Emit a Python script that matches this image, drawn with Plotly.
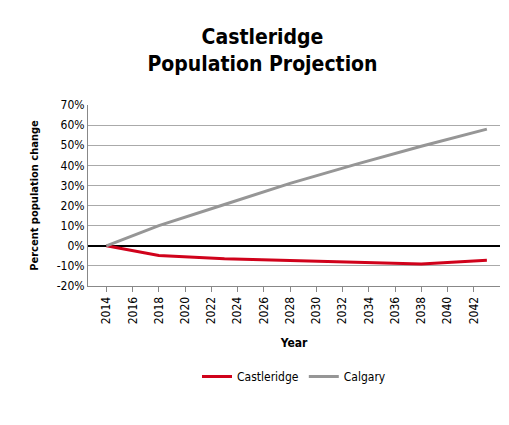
import plotly.graph_objects as go

years = [2014, 2018, 2023, 2028, 2033, 2038, 2043]
castleridge = [0, -4.8, -6.5, -7.4, -8.2, -9.0, -7.2]
calgary = [0, 10, 20.5, 31, 40.5, 49.5, 58]
tick_years = list(range(2014, 2043, 2))
pct_ticks = list(range(-20, 71, 10))
pct_labels = [f"{v}%" for v in pct_ticks]

fig = go.Figure()
fig.add_trace(go.Scatter(x=years, y=castleridge, mode="lines", name="Castleridge",
                         line=dict(color="#d0021b", width=3)))
fig.add_trace(go.Scatter(x=years, y=calgary, mode="lines", name="Calgary",
                         line=dict(color="#969696", width=3)))
fig.update_layout(
    width=509, height=425, plot_bgcolor="white", paper_bgcolor="white",
    font=dict(family="DejaVu Sans Condensed, DejaVu Sans", size=12, color="black"),
    title=dict(text="<b>Castleridge<br>Population Projection</b>", x=0.5, xanchor="center",
               y=0.915, yanchor="top", font=dict(size=21)),
    margin=dict(l=80, r=17, t=97, b=147),
    legend=dict(orientation="h", x=0.5, xanchor="center", y=-0.42, yanchor="top",
                font=dict(size=12)),
    showlegend=True,
)
fig.update_xaxes(range=[2012.6, 2044], tickvals=tick_years, tickangle=-90, showgrid=False,
                 showline=True, linecolor="#888", ticks="outside", tickcolor="#888",
                 title=dict(text="<b>Year</b>", font=dict(size=12)))
fig.update_yaxes(range=[-20, 70], tickvals=pct_ticks, ticktext=pct_labels, showgrid=True,
                 gridcolor="#aaa", zeroline=True, zerolinecolor="black", zerolinewidth=1.5,
                 showline=True, linecolor="#888",
                 title=dict(text="<b>Percent population change</b>", font=dict(size=11)))
fig.write_html("out.html")
